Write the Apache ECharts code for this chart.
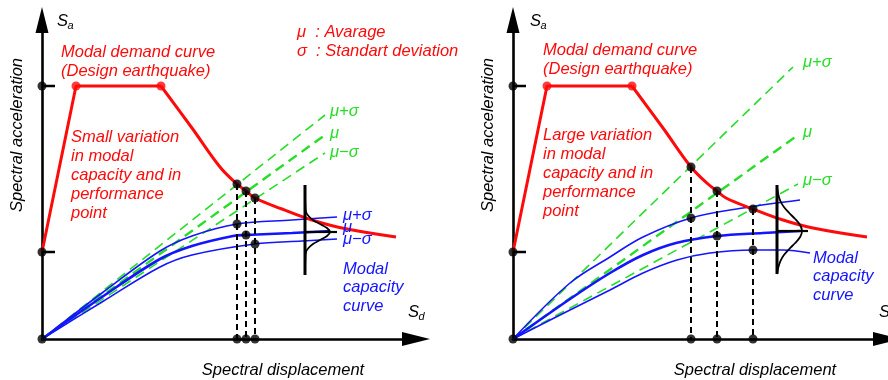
<!DOCTYPE html>
<html><head><meta charset="utf-8">
<script src="https://cdn.jsdelivr.net/npm/echarts@6/dist/echarts.min.js"></script>
<style>html,body{margin:0;padding:0;background:#fff}#c{width:888px;height:380px}</style>
</head><body><div id="c"></div>
<script>
// ---- data (schematic units, origin at axes corner) ----
const saTicks = [87, 253];
const demandRise = [[0,87],[34,253],[119,253]];
const demandFall = [[119,253],[150,211],[178,172],[195,155],[204,148],[213,141],[240,130],[270,119],[300,111],[354,102]];

// left panel: small variation
const leftGreenPlus  = [[0,0],[283,224]];
const leftGreenMu    = [[0,0],[283,204]];
const leftGreenMinus = [[0,0],[283,186]];
const leftCapPlus  = [[0,0],[60,46],[118,88],[150,103],[195,115],[250,119],[295,122]];
const leftCapMu    = [[0,0],[60,42],[118,80],[150,93],[191,103],[204,104],[250,106],[288,108]];
const leftCapMinus = [[0,0],[60,37],[118,72],[150,84],[213,95],[260,98],[295,100]];
const leftPerfX      = [195, 204, 213];
const leftPerfDemand = [155, 148, 141];
const leftPerfCap    = [115, 104, 95];
const leftBell = [[263,149],[263.3,135],[264,127],[266.5,123],[271,119],[278,115],[285,111],[288,107],[285,103],[278,99],[271,95],[266.5,91],[264,87],[263.3,79],[263,66]];
const leftBellStem = [[263,154],[263,64]];
const leftBellBase = [[263,107],[295,107]];

// right panel: large variation
const rightGreenPlus  = [[0,0],[280,272]];
const rightGreenMu    = [[0,0],[285,204]];
const rightGreenMinus = [[0,0],[285,155]];
const rightCapPlus  = [[0,0],[57,56],[97,82],[130,102],[178,121],[230,131],[287,139]];
const rightCapMu    = [[0,0],[57,40],[97,66],[130,84],[163,96],[204,103],[250,106],[287,108]];
const rightCapMinus = [[0,0],[57,29],[97,49],[130,66],[164,79],[197,86],[240,89],[270,89],[297,86]];
const rightPerfX      = [178, 204, 240];
const rightPerfDemand = [172, 148, 130];
const rightPerfCap    = [121, 103, 89];
const rightBell = [[264,152],[265.4,144],[267.4,138],[270.9,132],[276.2,126],[282.2,120],[287.1,114],[289,108],[287.1,102],[282.2,96],[276.2,90],[270.9,84],[267.4,78],[265.4,72],[264,65]];
const rightBellStem = [[264,154],[264,65]];
const rightBellBase = [[264,108],[295,108]];

// texts
const titleDemand = ['Modal demand curve', '(Design earthquake)'];
const legendTexts = ['\u03bc  : Avarage', '\u03c3  : Standart deviation'];
const leftNote  = ['Small variation', 'in modal', 'capacity and in', 'performance', 'point'];
const rightNote = ['Large variation', 'in modal', 'capacity and in', 'performance', 'point'];
const capText = ['Modal', 'capacity', 'curve'];
const sigmaLabels = ['\u03bc+\u03c3', '\u03bc', '\u03bc\u2212\u03c3'];
const xName = 'Spectral displacement';
const yName = 'Spectral acceleration';

// ---- styling ----
const RED = '#ff0a0a', GREEN = '#27dd27', BLUE = '#1414ff', BLACK = '#000';
const FONT = '"Liberation Sans", Arial, sans-serif';
const FS = 16.5;

function line(data, p, color, width, dash, smooth, z) {
  return {type:'line', xAxisIndex:p, yAxisIndex:p, data:data, symbol:'none', showSymbol:false,
    smooth: smooth || false, lineStyle:{color:color, width:width, type: dash || 'solid', cap:'butt'},
    z: z || 2, silent:true, animation:false};
}
function dots(data, p, color, size, z) {
  return {type:'scatter', xAxisIndex:p, yAxisIndex:p, data:data, symbol:'circle', symbolSize:size,
    itemStyle:{color:color}, z: z || 10, silent:true, animation:false};
}
function panelSeries(p, g, cap, perfX, perfD, perfC, bell, stem, base) {
  const s = [];
  s.push(line(g[0], p, GREEN, 1.6, [10,6], false, 2));
  s.push(line(g[1], p, GREEN, 2.4, [10,6], false, 2));
  s.push(line(g[2], p, GREEN, 1.6, [10,6], false, 2));
  s.push(line(cap[0], p, BLUE, 1.6, null, 0.35, 3));
  s.push(line(cap[1], p, BLUE, 2.6, null, 0.35, 3));
  s.push(line(cap[2], p, BLUE, 1.6, null, 0.35, 3));
  s.push(line(demandRise, p, RED, 3, null, false, 4));
  s.push(line(demandFall, p, RED, 3, null, 0.4, 4));
  perfX.forEach((x, i) => s.push(line([[x, perfD[i]], [x, 0]], p, BLACK, 2, [6,4], false, 5)));
  saTicks.forEach(v => s.push(line([[0, v], [13, v]], p, BLACK, 2.5, null, false, 5)));
  s.push(line(stem, p, BLACK, 3, null, false, 6));
  s.push(line(base, p, BLACK, 2.2, null, false, 6));
  s.push(line(bell, p, BLACK, 1.8, null, 0.3, 6));
  s.push(dots([[demandRise[1][0], demandRise[1][1]], [demandRise[2][0], demandRise[2][1]]], p, RED, 9, 9));
  const bd = [[0,0]].concat(saTicks.map(v => [0, v]));
  perfX.forEach((x, i) => { bd.push([x, perfD[i]]); bd.push([x, perfC[i]]); bd.push([x, 0]); });
  s.push(dots(bd, p, BLACK, 9, 10));
  return s;
}

const series = []
  .concat(panelSeries(0, [leftGreenPlus, leftGreenMu, leftGreenMinus], [leftCapPlus, leftCapMu, leftCapMinus],
    leftPerfX, leftPerfDemand, leftPerfCap, leftBell, leftBellStem, leftBellBase))
  .concat(panelSeries(1, [rightGreenPlus, rightGreenMu, rightGreenMinus], [rightCapPlus, rightCapMu, rightCapMinus],
    rightPerfX, rightPerfDemand, rightPerfCap, rightBell, rightBellStem, rightBellBase));

function axisX(i) {
  return {type:'value', gridIndex:i, min:0, max:374, axisLabel:{show:false}, axisTick:{show:false}, splitLine:{show:false},
    axisLine:{show:true, onZero:false, symbol:['none','triangle'], symbolSize:[14,28], lineStyle:{color:BLACK, width:2.6}}};
}
function axisY(i) {
  return {type:'value', gridIndex:i, min:0, max:319, axisLabel:{show:false}, axisTick:{show:false}, splitLine:{show:false},
    axisLine:{show:true, onZero:false, symbol:['none','triangle'], symbolSize:[13,26], lineStyle:{color:BLACK, width:2.6}}};
}

function txt(x, y, text, color, size, extra) {
  const st = Object.assign({text:text, fill:color, font:'italic ' + size + 'px ' + FONT,
    textAlign:'left', textVerticalAlign:'middle'}, extra || {});
  return {type:'text', x:x, y:y, style:st, z:100, silent:true};
}
function block(x, yFirst, lines, color, lh) {
  return txt(x, yFirst - lh / 2, lines.join('\n'), color, FS, {textVerticalAlign:'top', lineHeight:lh});
}
function sLabel(x, y, sub) {
  return [txt(x, y, 'S', BLACK, FS), txt(x + 10.5, y + 5, sub, BLACK, 11)];
}

const graphics = [];
// left panel texts
graphics.push(...sLabel(57, 21, 'a'));
graphics.push(block(61, 52, titleDemand, RED, 19));
graphics.push(block(297, 32, legendTexts, RED, 19));
graphics.push(block(71, 137, leftNote, RED, 19));
graphics.push(txt(330, 111, sigmaLabels[0], GREEN, FS));
graphics.push(txt(330, 133, sigmaLabels[1], GREEN, FS));
graphics.push(txt(330, 152, sigmaLabels[2], GREEN, FS));
graphics.push(txt(343, 215, sigmaLabels[0], BLUE, FS));
graphics.push(txt(343, 227, sigmaLabels[1], BLUE, FS));
graphics.push(txt(343, 239, sigmaLabels[2], BLUE, FS));
graphics.push(block(343, 269, capText, BLUE, 18.5));
graphics.push(...sLabel(408, 312, 'd'));
graphics.push(txt(283, 370, xName, BLACK, FS, {textAlign:'center'}));
graphics.push({type:'text', x:17, y:135, rotation:Math.PI/2, z:100, silent:true,
  style:{text:yName, fill:BLACK, font:'italic ' + FS + 'px ' + FONT, textAlign:'center', textVerticalAlign:'middle'}});
// right panel texts
graphics.push(...sLabel(530, 21, 'a'));
graphics.push(block(543, 50, titleDemand, RED, 19));
graphics.push(block(543, 135, rightNote, RED, 19));
graphics.push(txt(803, 62, sigmaLabels[0], GREEN, FS));
graphics.push(txt(803, 132, sigmaLabels[1], GREEN, FS));
graphics.push(txt(803, 180, sigmaLabels[2], GREEN, FS));
graphics.push(block(813, 258, capText, BLUE, 18.5));
graphics.push(...sLabel(879, 312, 'd'));
graphics.push(txt(755, 370, xName, BLACK, FS, {textAlign:'center'}));
graphics.push({type:'text', x:488, y:135, rotation:Math.PI/2, z:100, silent:true,
  style:{text:yName, fill:BLACK, font:'italic ' + FS + 'px ' + FONT, textAlign:'center', textVerticalAlign:'middle'}});

const chart = echarts.init(document.getElementById('c'), null, {renderer:'canvas'});
chart.setOption({
  animation:false,
  backgroundColor:'#fff',
  grid:[{left:42, top:20, width:374, height:319}, {left:513, top:20, width:374, height:319}],
  xAxis:[axisX(0), axisX(1)],
  yAxis:[axisY(0), axisY(1)],
  series: series,
  graphic: graphics
});
</script></body></html>
